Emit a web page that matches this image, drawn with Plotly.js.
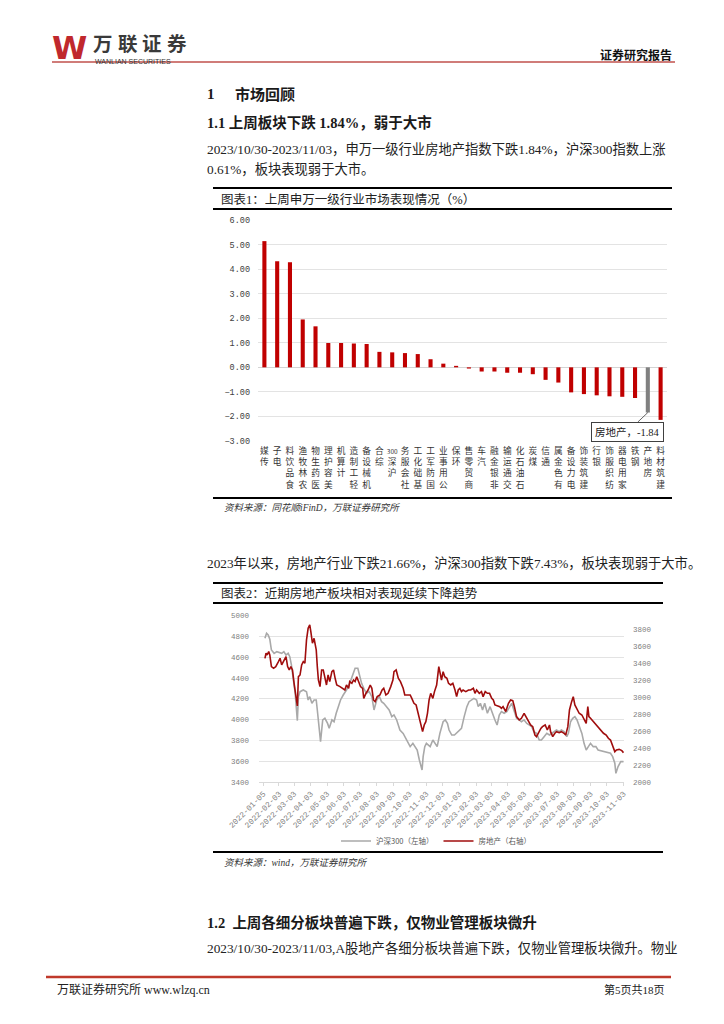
<!DOCTYPE html>
<html>
<head>
<meta charset="utf-8">
<script src="https://cdn.plot.ly/plotly-3.0.1.min.js"></script>
<style>
html,body{margin:0;padding:0;background:#fff;}
#chart{width:724px;height:1024px;}
</style>
</head>
<body>
<div id="chart"></div>
<script>
// ---------------- DATA ----------------
const barCategories = ['传媒','电子','食品饮料','农林牧渔','医药生物','美容护理','计算机','轻工制造','机械设备','综合','沪深300','社会服务','基础化工','国防军工','公用事业','环保','商贸零售','汽车','非银金融','交通运输','石油石化','煤炭','通信','有色金属','电力设备','建筑装饰','银行','纺织服饰','家用电器','钢铁','房地产','建筑材料'];
const barValues = [5.14, 4.32, 4.28, 1.95, 1.67, 0.99, 0.99, 0.97, 0.95, 0.63, 0.61, 0.58, 0.54, 0.33, 0.15, 0.06, -0.05, -0.17, -0.17, -0.22, -0.22, -0.28, -0.51, -0.62, -1.02, -1.09, -1.14, -1.18, -1.20, -1.25, -1.84, -2.14];
const highlightCategory = '房地产';

const hsName = '沪深300（左轴）';
const hsDates = ['2022-01-08','2022-01-11','2022-01-14','2022-01-17','2022-01-20','2022-01-25','2022-01-30','2022-02-04','2022-02-08','2022-02-12','2022-02-16','2022-02-20','2022-02-23','2022-02-26','2022-03-02','2022-03-05','2022-03-09','2022-03-11','2022-03-14','2022-03-20','2022-03-26','2022-03-29','2022-04-01','2022-04-05','2022-04-09','2022-04-13','2022-04-15','2022-04-19','2022-04-21','2022-04-25','2022-04-29','2022-05-04','2022-05-07','2022-05-12','2022-05-16','2022-05-20','2022-05-24','2022-05-28','2022-06-02','2022-06-08','2022-06-14','2022-06-19','2022-06-24','2022-06-29','2022-07-02','2022-07-06','2022-07-10','2022-07-15','2022-07-20','2022-07-25','2022-07-29','2022-08-03','2022-08-08','2022-08-12','2022-08-16','2022-08-21','2022-08-26','2022-08-31','2022-09-04','2022-09-09','2022-09-15','2022-09-21','2022-09-27','2022-10-04','2022-10-09','2022-10-13','2022-10-17','2022-10-21','2022-10-24','2022-10-26','2022-10-28','2022-10-31','2022-11-03','2022-11-07','2022-11-10','2022-11-15','2022-11-19','2022-11-23','2022-11-28','2022-12-04','2022-12-08','2022-12-12','2022-12-15','2022-12-20','2022-12-25','2022-12-29','2023-01-03','2023-01-07','2023-01-12','2023-01-17','2023-01-21','2023-01-26','2023-01-30','2023-02-04','2023-02-07','2023-02-11','2023-02-15','2023-02-19','2023-02-24','2023-03-01','2023-03-06','2023-03-10','2023-03-14','2023-03-18','2023-03-22','2023-03-27','2023-04-01','2023-04-06','2023-04-10','2023-04-14','2023-04-19','2023-04-24','2023-04-28','2023-05-03','2023-05-08','2023-05-13','2023-05-17','2023-05-21','2023-05-26','2023-05-31','2023-06-04','2023-06-09','2023-06-14','2023-06-19','2023-06-23','2023-06-27','2023-07-02','2023-07-07','2023-07-11','2023-07-16','2023-07-21','2023-07-24','2023-07-28','2023-08-01','2023-08-05','2023-08-09','2023-08-13','2023-08-18','2023-08-22','2023-08-26','2023-08-30','2023-09-03','2023-09-08','2023-09-13','2023-09-17','2023-09-22','2023-09-27','2023-10-02','2023-10-06','2023-10-10','2023-10-14','2023-10-18','2023-10-20','2023-10-24','2023-10-29','2023-11-03'];
const hsValues = [4782,4830,4814,4773,4670,4638,4654,4644,4638,4654,4622,4638,4606,4526,4381,4253,3990,4221,4269,4285,4269,4189,4221,4157,4189,4189,4093,3900,3788,3997,4013,3964,3916,3997,3980,4061,4125,4189,4237,4285,4349,4413,4494,4494,4429,4349,4301,4253,4269,4221,4093,4189,4221,4173,4157,4125,4093,4029,4045,3997,3900,3868,3804,3740,3772,3740,3708,3612,3531,3515,3644,3740,3772,3756,3740,3804,3772,3740,3868,3980,3997,3964,3900,3852,3852,3875,3900,3916,4029,4125,4173,4195,4205,4189,4125,4157,4093,4157,4061,4125,4045,3997,3948,4045,4077,4061,4077,4125,4157,4093,4013,3997,3980,3997,3964,3948,3932,3884,3868,3804,3804,3836,3868,3852,3868,3884,3900,3884,3900,3884,3836,3868,3980,4013,4029,3997,3932,3868,3772,3708,3740,3772,3740,3740,3708,3701,3692,3692,3682,3676,3644,3580,3483,3548,3596,3596];

const reName = '房地产（右轴）';
const reDates = ['2022-01-08','2022-01-10','2022-01-12','2022-01-15','2022-01-17','2022-01-20','2022-01-24','2022-01-28','2022-02-02','2022-02-05','2022-02-08','2022-02-12','2022-02-16','2022-02-19','2022-02-22','2022-02-25','2022-02-28','2022-03-03','2022-03-06','2022-03-09','2022-03-11','2022-03-14','2022-03-17','2022-03-20','2022-03-23','2022-03-26','2022-03-29','2022-04-01','2022-04-03','2022-04-06','2022-04-09','2022-04-13','2022-04-15','2022-04-17','2022-04-20','2022-04-23','2022-04-26','2022-04-29','2022-05-02','2022-05-05','2022-05-08','2022-05-12','2022-05-15','2022-05-18','2022-05-21','2022-05-27','2022-06-01','2022-06-05','2022-06-08','2022-06-12','2022-06-14','2022-06-18','2022-06-21','2022-06-24','2022-06-27','2022-07-01','2022-07-04','2022-07-08','2022-07-10','2022-07-14','2022-07-18','2022-07-22','2022-07-25','2022-07-28','2022-07-31','2022-08-04','2022-08-09','2022-08-13','2022-08-16','2022-08-20','2022-08-24','2022-08-29','2022-09-02','2022-09-04','2022-09-08','2022-09-12','2022-09-16','2022-09-21','2022-09-24','2022-09-29','2022-10-04','2022-10-07','2022-10-11','2022-10-15','2022-10-19','2022-10-23','2022-10-27','2022-10-30','2022-11-02','2022-11-05','2022-11-08','2022-11-11','2022-11-15','2022-11-18','2022-11-22','2022-11-26','2022-11-28','2022-12-01','2022-12-04','2022-12-07','2022-12-11','2022-12-14','2022-12-18','2022-12-22','2022-12-26','2022-12-29','2023-01-01','2023-01-04','2023-01-07','2023-01-10','2023-01-15','2023-01-20','2023-01-24','2023-01-29','2023-02-01','2023-02-04','2023-02-09','2023-02-13','2023-02-16','2023-02-20','2023-02-24','2023-02-28','2023-03-04','2023-03-07','2023-03-10','2023-03-14','2023-03-19','2023-03-22','2023-03-25','2023-03-30','2023-04-04','2023-04-08','2023-04-12','2023-04-15','2023-04-19','2023-04-24','2023-04-28','2023-05-03','2023-05-06','2023-05-11','2023-05-15','2023-05-19','2023-05-23','2023-05-26','2023-05-29','2023-06-03','2023-06-06','2023-06-11','2023-06-15','2023-06-19','2023-06-21','2023-06-25','2023-06-29','2023-07-02','2023-07-07','2023-07-11','2023-07-16','2023-07-19','2023-07-23','2023-07-26','2023-07-30','2023-08-02','2023-08-05','2023-08-08','2023-08-13','2023-08-18','2023-08-22','2023-08-26','2023-08-29','2023-08-31','2023-09-03','2023-09-08','2023-09-13','2023-09-17','2023-09-22','2023-09-27','2023-10-02','2023-10-06','2023-10-10','2023-10-14','2023-10-18','2023-10-21','2023-10-26','2023-10-31','2023-11-03'];
const reValues = [3455,3514,3494,3534,3494,3357,3337,3357,3416,3455,3377,3435,3475,3357,3318,3357,3318,3161,3043,2894,3239,3259,3377,3416,3396,3671,3808,3847,3769,3632,3690,3553,3357,3200,3122,3318,3318,3239,3141,3259,3181,3298,3318,3220,3141,3122,3102,3082,3141,3102,3181,3161,3200,3181,3239,3181,3122,3102,2984,3043,3082,3141,3102,2965,2945,3004,3024,3082,3102,3024,3043,3122,3200,3298,3318,3220,3181,3102,3024,3024,3024,2984,2926,2906,2808,2690,2592,2671,2710,2808,2965,3043,2984,3063,3141,3357,3298,3200,3298,3239,3220,3161,3141,3161,3082,3004,3082,3102,3063,3082,3063,3082,3082,3102,3043,3082,3043,3063,3004,3063,3043,3043,2984,2965,2906,2894,2886,2867,2886,2828,2926,2965,2957,2886,2769,2730,2749,2808,2769,2710,2671,2651,2553,2533,2573,2631,2651,2671,2612,2671,2592,2533,2573,2592,2580,2592,2573,2553,2651,2847,2945,3004,2906,2867,2808,2788,2730,2690,2886,2769,2749,2710,2671,2651,2604,2573,2553,2514,2494,2435,2357,2377,2384,2369,2345];

const lineTickDates = ['2022-01-05','2022-02-03','2022-03-03','2022-04-03','2022-05-03','2022-06-03','2022-07-03','2022-08-03','2022-09-03','2022-10-03','2022-11-03','2022-12-03','2023-01-03','2023-02-03','2023-03-03','2023-04-03','2023-05-03','2023-06-03','2023-07-03','2023-08-03','2023-09-03','2023-10-03','2023-11-03'];

const logoChars = ['万','联','证','券'];

// ---------------- LAYOUT HELPERS ----------------
const W = 724, H = 1024;
const X = v => v / W;
const Y = v => 1 - v / H;
const SERIF = '"Liberation Serif", "Noto Sans CJK SC", serif';
const CJK = '"Noto Sans CJK SC", sans-serif';
const MONO = '"Liberation Mono", "Noto Sans CJK SC", monospace';

function txt(text, x, y, size, opts) {
  opts = opts || {};
  return {
    text: text, x: X(x), y: Y(y), xref: 'paper', yref: 'paper',
    xanchor: opts.anchor || 'left', yanchor: 'middle', showarrow: false,
    font: {size: size, color: opts.color || '#1a1a1a', family: opts.family || SERIF,
           weight: opts.bold ? 'bold' : 'normal', style: opts.italic ? 'italic' : 'normal'}
  };
}
function hline(x0, x1, y, color, width) {
  return {type: 'line', xref: 'paper', yref: 'paper', x0: X(x0), x1: X(x1), y0: Y(y), y1: Y(y),
          line: {color: color, width: width}};
}

// vertical-stacked category labels (read bottom-to-top like the source)
function stackLabel(s) {
  const tokens = s.match(/[0-9A-Za-z]+|./g);
  return tokens.reverse().map(t => /^[0-9A-Za-z]+$/.test(t) ? '<span style="font-size:6.5px">' + t + '</span>' : t).join('<br>');
}

const barColors = barCategories.map(c => c === highlightCategory ? '#808080' : '#c00000');

const traces = [
  {type: 'bar', x: barCategories, y: barValues, xaxis: 'x', yaxis: 'y', width: 0.32,
   marker: {color: barColors}, showlegend: false, hoverinfo: 'x+y'},
  {type: 'scatter', mode: 'lines', name: hsName, x: hsDates, y: hsValues, xaxis: 'x2', yaxis: 'y2',
   line: {color: '#a9a9a9', width: 1.6}},
  {type: 'scatter', mode: 'lines', name: reName, x: reDates, y: reValues, xaxis: 'x2', yaxis: 'y3',
   line: {color: '#a00d0d', width: 1.6}}
];

const annotations = [
  txt('W', 50, 48, 32, {bold: true, color: '#c0282d', family: '"DejaVu Sans", sans-serif'}),
  ...logoChars.map((c, i) => txt(c, 91 + i * 24.5, 42, 19.5, {bold: true, color: '#3a3a3a', family: CJK})),
  txt('WANLIAN SECURITIES', 93, 61.5, 7, {color: '#333', family: '"Liberation Sans", sans-serif'}),
  txt('证券研究报告', 674, 54, 12, {bold: true, anchor: 'right', color: '#111', family: CJK}),
  txt('1', 205, 94, 15, {bold: true}),
  txt('市场回顾', 233, 94, 15, {bold: true}),
  txt('1.1 上周板块下跌 1.84%，弱于大市', 205, 122, 14.5, {bold: true}),
  txt('2023/10/30-2023/11/03，申万一级行业房地产指数下跌1.84%，沪深300指数上涨', 205, 149, 13.3, {color: '#222'}),
  txt('0.61%，板块表现弱于大市。', 205, 169, 13.3, {color: '#222'}),
  txt('图表1：上周申万一级行业市场表现情况（%）', 219, 199, 12.5, {color: '#222'}),
  txt('资料来源：同花顺iFinD，万联证券研究所', 222, 507, 9.5, {italic: true, color: '#333'}),
  txt('2023年以来，房地产行业下跌21.66%，沪深300指数下跌7.43%，板块表现弱于大市。', 205, 563, 13.3, {color: '#222'}),
  txt('图表2：近期房地产板块相对表现延续下降趋势', 219, 593, 12.5, {color: '#222'}),
  txt('资料来源：wind，万联证券研究所', 222, 862, 9.5, {italic: true, color: '#333'}),
  txt('1.2  上周各细分板块普遍下跌，仅物业管理板块微升', 205, 922, 14.5, {bold: true}),
  txt('2023/10/30-2023/11/03,A股地产各细分板块普遍下跌，仅物业管理板块微升。物业', 205, 948, 13.3, {color: '#222'}),
  txt('万联证券研究所 www.wlzq.cn', 55, 989, 12, {color: '#222'}),
  txt('第5页共18页', 667, 989, 11, {anchor: 'right', color: '#222'}),
  {x: highlightCategory, y: barValues[barCategories.indexOf(highlightCategory)], xref: 'x', yref: 'y',
   text: highlightCategory + '，' + barValues[barCategories.indexOf(highlightCategory)].toFixed(2),
   showarrow: true, arrowhead: 0, arrowwidth: 0.8, arrowcolor: '#404040', standoff: 0,
   ax: -20, ay: 19, bordercolor: '#404040', borderwidth: 1, borderpad: 3, bgcolor: '#fff',
   font: {size: 10.5, family: SERIF, color: '#222'}}
];

const shapes = [
  hline(52, 675, 62, '#c0504d', 1.5),
  hline(213, 672, 188, '#000', 2),
  hline(213, 672, 209, '#000', 2),
  hline(213, 672, 498, '#000', 2),
  hline(213, 663, 583, '#000', 2),
  hline(213, 663, 603, '#000', 2),
  hline(213, 663, 852, '#000', 2),
  hline(46, 671, 977, '#c0392b', 2.5)
];

const layout = {
  width: W, height: H, autosize: false,
  margin: {l: 0, r: 0, t: 0, b: 0, pad: 0},
  paper_bgcolor: '#fff', plot_bgcolor: 'rgba(0,0,0,0)',
  font: {family: SERIF, color: '#222'},
  showlegend: true,
  legend: {orientation: 'h', x: X(436), xanchor: 'center', y: Y(841), yanchor: 'middle',
           font: {size: 7.5, family: CJK, color: '#595959'}, itemwidth: 30, bgcolor: 'rgba(0,0,0,0)'},
  xaxis: {domain: [X(258), X(667)], anchor: 'y', type: 'category', showgrid: false, zeroline: false,
          showline: false, ticks: '', tickmode: 'array', tickvals: barCategories,
          ticktext: barCategories.map(stackLabel), tickangle: 0, ticklabelstandoff: 3,
          tickfont: {size: 8.7, family: CJK, color: '#333'}, fixedrange: true},
  yaxis: {domain: [Y(441), Y(220)], anchor: 'x', range: [-3, 6], dtick: 1, tick0: 0, tickformat: '.2f',
          showgrid: true, gridcolor: '#e3e3e3', gridwidth: 1, zeroline: true, zerolinecolor: '#d4d4d4',
          zerolinewidth: 1, showline: false, ticks: '', ticklabelstandoff: 7,
          tickfont: {size: 8.5, family: MONO, color: '#404040'}, fixedrange: true},
  xaxis2: {domain: [X(259), X(624)], anchor: 'y2', type: 'date', range: ['2021-12-28', '2023-11-04'],
           tickmode: 'array', tickvals: lineTickDates, ticktext: lineTickDates, tickangle: -45,
           showgrid: false, showline: true, linecolor: '#d9d9d9', linewidth: 1,
           ticks: 'outside', ticklen: 3, tickcolor: '#d9d9d9',
           tickfont: {size: 8, family: MONO, color: '#808080'}, fixedrange: true},
  yaxis2: {domain: [Y(782), Y(615.7)], anchor: 'x2', range: [3400, 5000], dtick: 200, tick0: 3400,
           showgrid: true, gridcolor: '#e3e3e3', zeroline: false, showline: false, ticks: '',
           ticklabelstandoff: 9, tickformat: 'd',
           tickfont: {size: 7.5, family: MONO, color: '#808080'}, fixedrange: true},
  yaxis3: {overlaying: 'y2', anchor: 'x2', side: 'right', range: [2000, 3956], dtick: 200, tick0: 2000,
           showgrid: false, zeroline: false, showline: false, ticks: '', ticklabelstandoff: 8, tickformat: 'd',
           tickfont: {size: 7.5, family: MONO, color: '#808080'}, fixedrange: true},
  annotations: annotations,
  shapes: shapes
};

Plotly.newPlot('chart', traces, layout, {displayModeBar: false, staticPlot: true});
</script>
</body>
</html>
